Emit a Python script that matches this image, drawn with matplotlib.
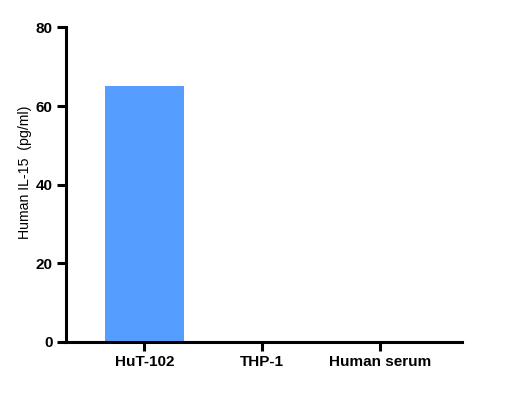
import matplotlib
matplotlib.use("Agg")
import matplotlib.pyplot as plt

categories = ["HuT-102", "THP-1", "Human serum"]
values = [65, 0, 0]
yticks = [0, 20, 40, 60, 80]

plt.rcParams["font.family"] = ["Liberation Sans", "DejaVu Sans"]

fig = plt.figure(figsize=(5.1, 3.93), dpi=100)
ax = fig.add_axes([0.1294, 0.1298, 0.7759, 0.8003])

x = range(len(categories))
ax.bar(x, values, width=0.664, color="#559EFF")

ax.set_xlim(-0.664, 2.69)
ax.set_ylim(0, 80)
ax.set_yticks(yticks)
ax.set_xticks(list(x))
ax.set_xticklabels(categories, fontweight="bold", fontsize=11)
ax.set_yticklabels([str(t) for t in yticks], fontweight="bold", fontsize=11)
ax.set_ylabel("Human IL-15  (pg/ml)", fontsize=10.2)
ax.yaxis.set_label_coords(-0.086, 0.54)

for side in ["top", "right"]:
    ax.spines[side].set_visible(False)
for side in ["left", "bottom"]:
    ax.spines[side].set_linewidth(2.2)
ax.tick_params(axis="both", width=2.2, length=6.5, pad=3)

fig.savefig("out.png", dpi=100)
